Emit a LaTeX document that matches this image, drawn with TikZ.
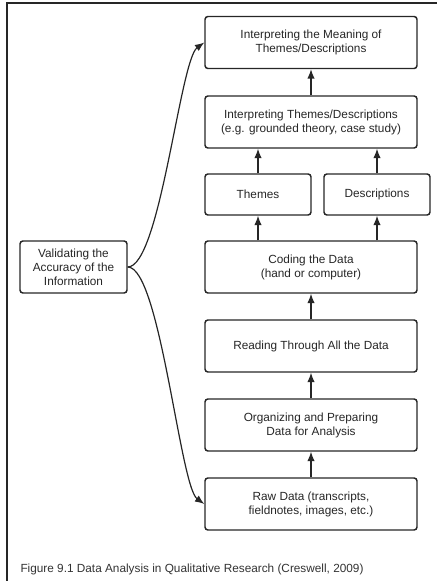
\documentclass[tikz,border=0pt]{standalone}
\usepackage{fontspec}
\setmainfont{Liberation Sans}
\usetikzlibrary{arrows.meta}

\tikzset{every picture/.style={line width=0.75pt}}
\tikzset{
  stepbox/.style={draw=black!85, line width=1.1pt, rounded corners=2.2pt, align=center,
    text=black!85, font=\fontsize{8.85}{10.5}\selectfont, inner sep=0.75pt},
  widebox/.style={stepbox, minimum width=159pt, minimum height=39pt},
  halfbox/.style={stepbox, minimum width=79.5pt, minimum height=30.75pt},
  flow/.style={draw=black!85, line width=0.9pt, -{Latex[length=7pt,width=5.5pt]}},
}

\begin{document}
\begin{tikzpicture}[x=0.75pt,y=0.75pt,yscale=-1,xscale=1]
	\useasboundingbox (0,0) rectangle (437,581);
	
	%Frame
	\draw [line width=1.1pt, draw=black!85] (7,581) -- (7,3) -- (437,3) ;
	
	% Text Node
	\node [widebox] (meaning) at (311,42.5) {Interpreting the Meaning of\\Themes/Descriptions};
	% Text Node
	\node [widebox] (interp) at (311,122) {Interpreting Themes/Descriptions\\(e.g. grounded theory, case study)};
	% Text Node
	\node [halfbox] (themes) at (258,194.5) {Themes};
	% Text Node
	\node [halfbox] (descr) at (377,194.5) {Descriptions};
	% Text Node
	\node [widebox] (coding) at (311,267) {Coding the Data\\(hand or computer)};
	% Text Node
	\node [widebox] (reading) at (311,346) {Reading Through All the Data};
	% Text Node
	\node [widebox] (organizing) at (311,425) {Organizing and Preparing\\Data for Analysis};
	% Text Node
	\node [widebox] (raw) at (311,504) {Raw Data (transcripts,\\fieldnotes, images, etc.)};
	% Text Node
	\node [stepbox, minimum width=80.25pt, minimum height=39pt] (validating) at (73.5,267) {Validating the\\Accuracy of the\\Information};
	
	%Straight Lines
	\draw [flow] (raw) -- (organizing) ;
	\draw [flow] (organizing) -- (reading) ;
	\draw [flow] (reading) -- (coding) ;
	\draw [flow] (coding.north -| themes) -- (themes) ;
	\draw [flow] (coding.north -| descr) -- (descr) ;
	\draw [flow] (themes) -- (themes |- interp.south) ;
	\draw [flow] (descr) -- (descr |- interp.south) ;
	\draw [flow] (interp) -- (meaning) ;
	
	%Curves
	\draw [flow] (validating.east) .. controls (160,267) and (180,60) .. (meaning.west) ;
	\draw [flow] (validating.east) .. controls (160,267) and (180,486.5) .. (raw.west) ;
	
	% Text Node
	\node [anchor=west, inner sep=0pt, text=black!80, font=\fontsize{8.85}{10.5}\selectfont] (caption) at (20,569) {Figure 9.1 Data Analysis in Qualitative Research (Creswell, 2009)};
	
\end{tikzpicture}
\end{document}
